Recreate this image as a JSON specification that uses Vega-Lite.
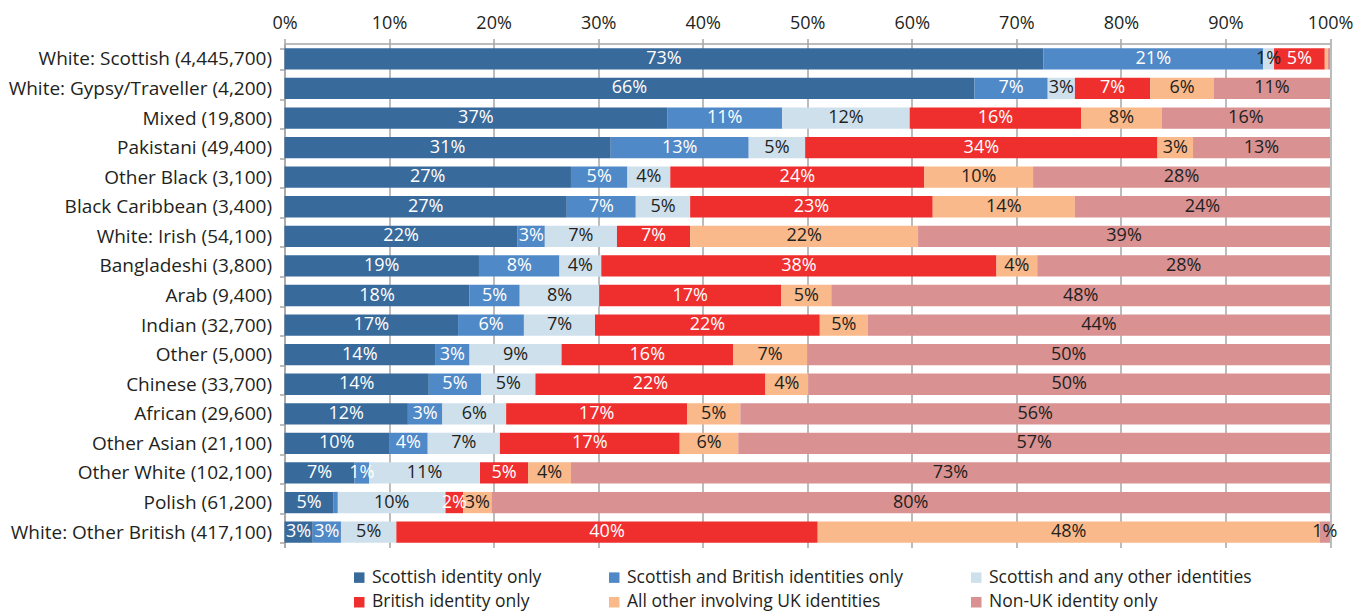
{
  "$schema": "https://vega.github.io/schema/vega-lite/v6.json",
  "width": 1045.5,
  "height": 504,
  "autosize": {"type": "none"},
  "padding": {"left": 284.5, "top": 43.5, "right": 39, "bottom": 68.5},
  "background": "white",
  "config": {"font": "Open Sans", "view": {"stroke": null}},
  "data": {"values": [
    {"g": "White: Scottish (4,445,700)", "Scottish identity only": 0.726, "Scottish and British identities only": 0.210, "Scottish and any other identities": 0.0105, "British identity only": 0.0485, "All other involving UK identities": 0.003, "Non-UK identity only": 0.002},
    {"g": "White: Gypsy/Traveller (4,200)", "Scottish identity only": 0.660, "Scottish and British identities only": 0.070, "Scottish and any other identities": 0.026, "British identity only": 0.072, "All other involving UK identities": 0.061, "Non-UK identity only": 0.111},
    {"g": "Mixed (19,800)", "Scottish identity only": 0.366, "Scottish and British identities only": 0.110, "Scottish and any other identities": 0.122, "British identity only": 0.164, "All other involving UK identities": 0.077, "Non-UK identity only": 0.161},
    {"g": "Pakistani (49,400)", "Scottish identity only": 0.312, "Scottish and British identities only": 0.132, "Scottish and any other identities": 0.054, "British identity only": 0.337, "All other involving UK identities": 0.034, "Non-UK identity only": 0.131},
    {"g": "Other Black (3,100)", "Scottish identity only": 0.274, "Scottish and British identities only": 0.054, "Scottish and any other identities": 0.041, "British identity only": 0.243, "All other involving UK identities": 0.104, "Non-UK identity only": 0.284},
    {"g": "Black Caribbean (3,400)", "Scottish identity only": 0.270, "Scottish and British identities only": 0.066, "Scottish and any other identities": 0.052, "British identity only": 0.232, "All other involving UK identities": 0.136, "Non-UK identity only": 0.244},
    {"g": "White: Irish (54,100)", "Scottish identity only": 0.223, "Scottish and British identities only": 0.026, "Scottish and any other identities": 0.069, "British identity only": 0.070, "All other involving UK identities": 0.218, "Non-UK identity only": 0.394},
    {"g": "Bangladeshi (3,800)", "Scottish identity only": 0.186, "Scottish and British identities only": 0.077, "Scottish and any other identities": 0.040, "British identity only": 0.378, "All other involving UK identities": 0.039, "Non-UK identity only": 0.280},
    {"g": "Arab (9,400)", "Scottish identity only": 0.177, "Scottish and British identities only": 0.048, "Scottish and any other identities": 0.076, "British identity only": 0.174, "All other involving UK identities": 0.048, "Non-UK identity only": 0.477},
    {"g": "Indian (32,700)", "Scottish identity only": 0.166, "Scottish and British identities only": 0.063, "Scottish and any other identities": 0.068, "British identity only": 0.215, "All other involving UK identities": 0.046, "Non-UK identity only": 0.442},
    {"g": "Other (5,000)", "Scottish identity only": 0.144, "Scottish and British identities only": 0.033, "Scottish and any other identities": 0.088, "British identity only": 0.164, "All other involving UK identities": 0.071, "Non-UK identity only": 0.500},
    {"g": "Chinese (33,700)", "Scottish identity only": 0.138, "Scottish and British identities only": 0.050, "Scottish and any other identities": 0.052, "British identity only": 0.220, "All other involving UK identities": 0.041, "Non-UK identity only": 0.499},
    {"g": "African (29,600)", "Scottish identity only": 0.118, "Scottish and British identities only": 0.033, "Scottish and any other identities": 0.061, "British identity only": 0.173, "All other involving UK identities": 0.051, "Non-UK identity only": 0.564},
    {"g": "Other Asian (21,100)", "Scottish identity only": 0.100, "Scottish and British identities only": 0.037, "Scottish and any other identities": 0.069, "British identity only": 0.172, "All other involving UK identities": 0.056, "Non-UK identity only": 0.566},
    {"g": "Other White (102,100)", "Scottish identity only": 0.067, "Scottish and British identities only": 0.014, "Scottish and any other identities": 0.106, "British identity only": 0.046, "All other involving UK identities": 0.041, "Non-UK identity only": 0.726},
    {"g": "Polish (61,200)", "Scottish identity only": 0.047, "Scottish and British identities only": 0.004, "Scottish and any other identities": 0.103, "British identity only": 0.017, "All other involving UK identities": 0.027, "Non-UK identity only": 0.802},
    {"g": "White: Other British (417,100)", "Scottish identity only": 0.027, "Scottish and British identities only": 0.027, "Scottish and any other identities": 0.053, "British identity only": 0.403, "All other involving UK identities": 0.480, "Non-UK identity only": 0.010}
  ]},
  "transform": [
    {"fold": ["Scottish identity only", "Scottish and British identities only", "Scottish and any other identities", "British identity only", "All other involving UK identities", "Non-UK identity only"], "as": ["s", "v"]},
    {"calculate": "indexof(['Scottish identity only', 'Scottish and British identities only', 'Scottish and any other identities', 'British identity only', 'All other involving UK identities', 'Non-UK identity only'], datum.s)", "as": "o"}
  ],
  "encoding": {
    "y": {
      "field": "g", "type": "nominal", "sort": null,
      "scale": {"paddingInner": 0.28, "paddingOuter": 0.16},
      "axis": {"title": null, "domainColor": "#a6a6a6", "domainWidth": 1.5, "tickColor": "#a6a6a6", "tickWidth": 1.5, "tickSize": 5, "tickBand": "extent", "labelFontSize": 19, "labelColor": "#231f20", "labelPadding": 8, "labelLimit": 400, "grid": false}
    },
    "order": {"field": "o", "type": "quantitative"}
  },
  "layer": [
    {
      "mark": {"type": "bar"},
      "encoding": {
        "x": {"field": "v", "type": "quantitative", "stack": "normalize", "scale": {"domain": [0, 1]},
          "axis": {"orient": "top", "title": null, "format": ".0%", "values": [0, 0.1, 0.2, 0.3, 0.4, 0.5, 0.6, 0.7, 0.8, 0.9, 1], "labelFlush": false, "grid": true, "gridColor": "#a6a6a6", "gridWidth": 1.5, "domainColor": "#a6a6a6", "domainWidth": 1.5, "tickColor": "#a6a6a6", "tickWidth": 1.5, "tickSize": 5, "labelFontSize": 18, "labelColor": "#231f20", "labelPadding": 6}},
        "color": {
          "field": "s", "type": "nominal",
          "scale": {
            "domain": ["Scottish identity only", "Scottish and British identities only", "Scottish and any other identities", "British identity only", "All other involving UK identities", "Non-UK identity only"],
            "range": ["#386a9b", "#4f89c7", "#cfe0ed", "#ef2e2e", "#f9b98a", "#d99192"]
          },
          "legend": {"title": null, "orient": "none", "legendX": 66, "legendY": 525, "direction": "horizontal", "columns": 3, "columnPadding": 64, "rowPadding": 6, "symbolType": "square", "symbolSize": 110, "symbolStrokeWidth": 0, "labelFontSize": 17.5, "labelColor": "#231f20", "labelOffset": 4, "labelLimit": 400}
        }
      }
    },
    {
      "mark": {"type": "text", "fontSize": 18, "baseline": "middle", "align": "center"},
      "encoding": {
        "x": {"field": "v", "type": "quantitative", "stack": "normalize", "bandPosition": 0.5},
        "detail": {"field": "s"},
        "text": {"condition": {"test": "datum.v < 0.005", "value": ""}, "field": "v", "type": "quantitative", "format": ".0%"},
        "color": {"condition": {"test": "indexof(['Scottish identity only', 'Scottish and British identities only', 'British identity only'], datum.s) >= 0", "value": "white"}, "value": "#231f20"}
      }
    }
  ]
}
